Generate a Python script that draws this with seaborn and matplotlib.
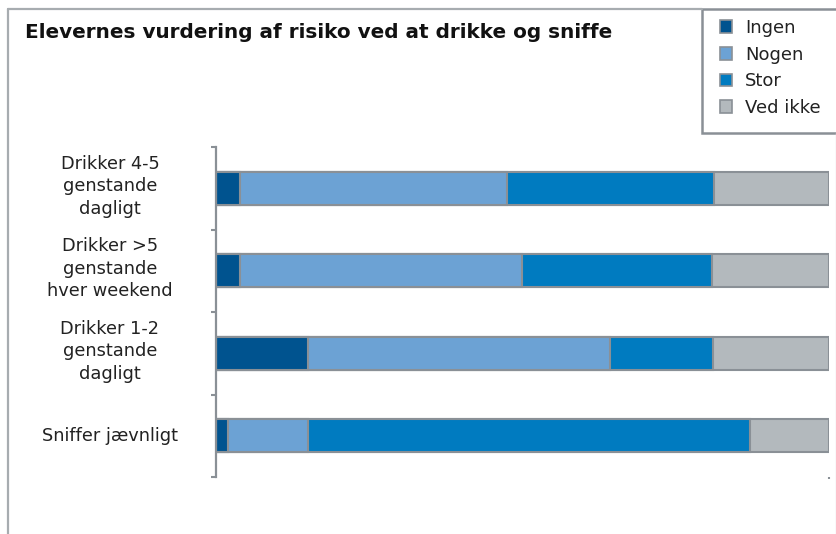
import pandas as pd
import matplotlib
matplotlib.use('Agg')
import matplotlib.pyplot as plt
import matplotlib.transforms as mtransforms
from matplotlib.patches import Patch, Rectangle
from matplotlib.lines import Line2D
import seaborn as sns

# Data (percent of pupils)
kategorier = ['Drikker 4-5\ngenstande\ndagligt',
              'Drikker >5\ngenstande\nhver weekend',
              'Drikker 1-2\ngenstande\ndagligt',
              'Sniffer jævnligt']
ingen = [3.9, 3.9, 15.0, 1.9]
nogen = [43.6, 46.1, 49.2, 13.1]
stor = [33.8, 30.9, 16.9, 72.1]
ved_ikke = [18.7, 19.1, 18.9, 12.9]

serier = ['Ingen', 'Nogen', 'Stor', 'Ved ikke']
farver = ['#00538f', '#6ca2d4', '#007bc0', '#b3b9bd']
kant = '#8a9096'
ramme = '#a7acb0'

df = pd.DataFrame({'Kategori': kategorier, 'Ingen': ingen, 'Nogen': nogen,
                   'Stor': stor, 'Ved ikke': ved_ikke})
# cumulative sums for stacked bars
kum = df[serier].cumsum(axis=1)
kum['Kategori'] = df['Kategori']

sns.set_style('white')
plt.rcParams['font.family'] = ['DejaVu Sans']

fig = plt.figure(figsize=(8.37, 5.34), dpi=100)
ax = fig.add_axes([216/837, 1 - 477/534, (829 - 216)/837, (477 - 147)/534])

# draw from the full bar down to the first segment
for s, c in zip(reversed(serier), reversed(farver)):
    sns.barplot(data=kum, x=s, y='Kategori', color=c, width=0.4,
                edgecolor=kant, linewidth=1.5, saturation=1, ax=ax)

ax.set_xlim(0, 100)
ax.set_ylim(3.5, -0.5)
ax.set_xlabel('')
ax.set_ylabel('')

for side in ['top', 'right', 'bottom']:
    ax.spines[side].set_visible(False)
ax.spines['left'].set_color(kant)
ax.spines['left'].set_linewidth(1.6)

# category labels, centred in the left margin
ax.set_yticks(range(len(kategorier)))
ax.set_yticklabels([''] * len(kategorier))
trans = mtransforms.blended_transform_factory(fig.transFigure, ax.transData)
op = mtransforms.ScaledTranslation(0, 2/100, fig.dpi_scale_trans)
for i, k in enumerate(kategorier):
    t = trans + op if '\n' in k else trans
    ax.text(110/837, i, k, transform=t, ha='center', va='center',
            fontsize=12.8, color='#222222', linespacing=1.32)

ax.set_yticks([-0.5, 0.5, 1.5, 2.5, 3.5], minor=True)
ax.tick_params(axis='y', which='both', left=True)
ax.tick_params(axis='y', which='major', length=0)
ax.tick_params(axis='y', which='minor', length=3.8, width=1.5, color=kant, direction='out')
ax.set_xticks([100])
ax.set_xticklabels([''])
ax.tick_params(axis='x', bottom=True, length=1.5, width=1.5, color=kant, direction='out')

# outer frame
fig.add_artist(Line2D([8/837, 8/837], [0, 1 - 9/534], transform=fig.transFigure,
                      color=ramme, lw=1.6))
fig.add_artist(Line2D([8/837, 702/837], [1 - 9/534, 1 - 9/534], transform=fig.transFigure,
                      color=ramme, lw=1.6))
fig.add_artist(Line2D([836/837, 836/837], [0, 1 - 133/534], transform=fig.transFigure,
                      color='#e2e4e6', lw=1.0))

fig.text(25/837, 1 - 33/534, 'Elevernes vurdering af risiko ved at drikke og sniffe',
         fontsize=14.4, fontweight='bold', color='#111111', va='center', ha='left')

# legend box
fig.add_artist(Rectangle((702/837, 1 - 133/534), 0.2, 124/534, transform=fig.transFigure,
                         facecolor='white', edgecolor=kant, lw=1.8))
handles = [Patch(facecolor=c, edgecolor=kant, linewidth=1.2) for c in farver]
fig.legend(handles, serier, loc='upper left', bbox_to_anchor=(720/837, 1 - 19/534),
           frameon=False, fontsize=13, handlelength=0.68, handleheight=0.68,
           handletextpad=0.7, labelspacing=0.48, borderaxespad=0, borderpad=0,
           labelcolor='#222222')

fig.savefig('out.png', dpi=100)
